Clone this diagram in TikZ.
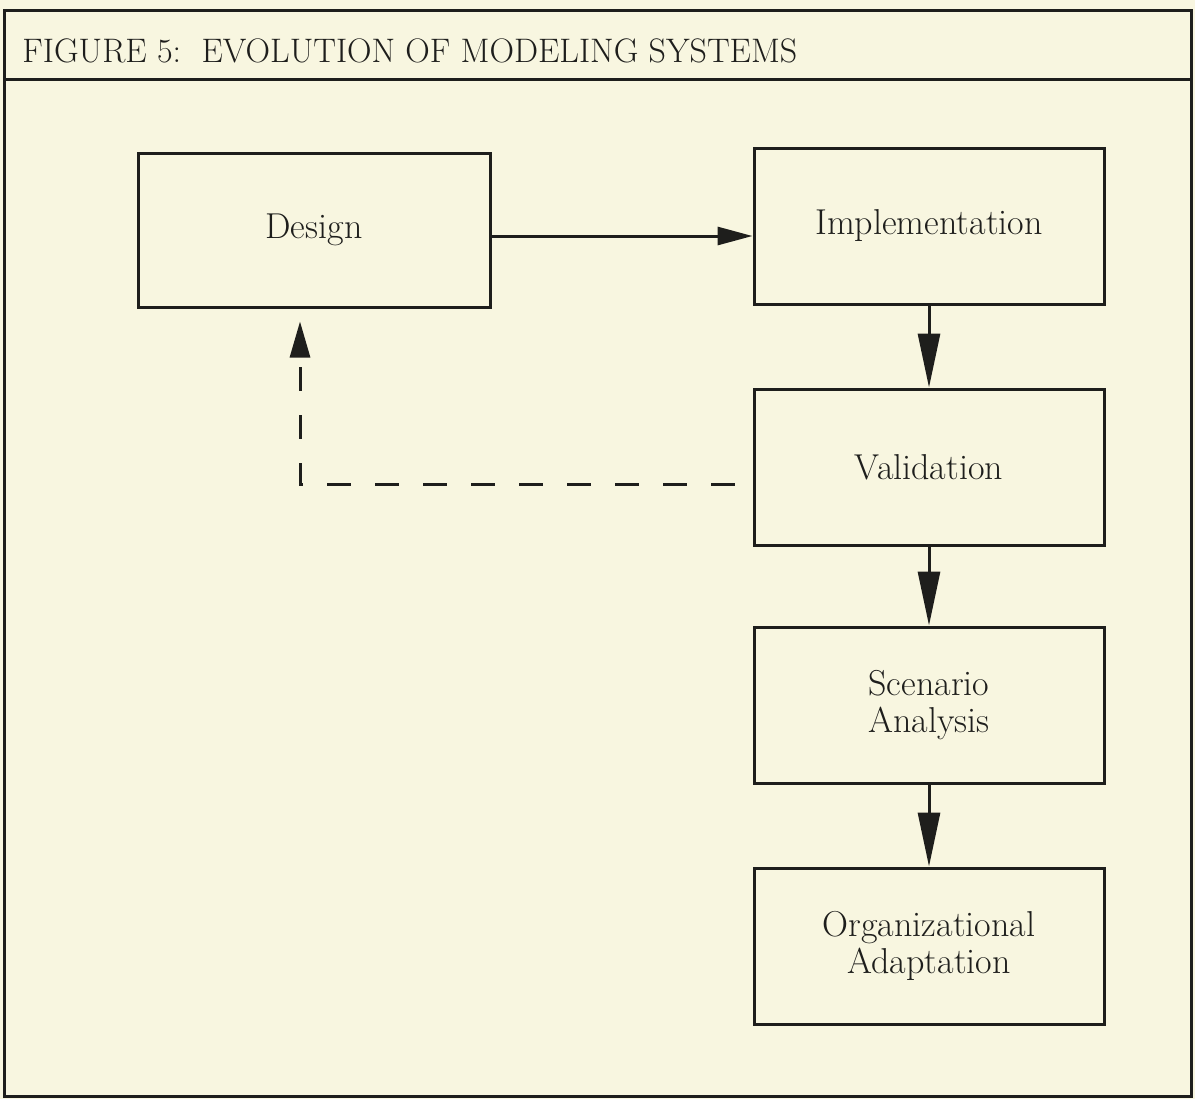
\documentclass[tikz,border=0pt]{standalone}
\usetikzlibrary{arrows.meta}
\definecolor{paper}{RGB}{248,246,224}
\definecolor{ink}{RGB}{30,30,28}
\begin{document}
\begin{tikzpicture}[x=0.5pt,y=-0.5pt,
  stagebox/.style={draw=ink,line width=1.5pt,minimum width=175pt,minimum height=78pt,align=center,
    font=\fontsize{18}{18.5}\selectfont,text=ink,inner sep=0pt},
  flow/.style={draw=ink,line width=1.5pt,-{Triangle[length=27pt,width=11pt]}},
  hflow/.style={draw=ink,line width=1.5pt,-{Triangle[length=17.5pt,width=9pt]}},
  back/.style={draw=ink,line width=1.5pt,dash pattern=on 12pt off 12pt,-{Triangle[length=18pt,width=10pt]}}]
\fill[paper] (0,0) rectangle (1195,1099);
\useasboundingbox (0,0) rectangle (1195,1099);
\draw[ink,line width=1.5pt] (4,10) rectangle (1191,1096);
\draw[ink,line width=1.5pt] (4,79) -- (1191,79);
\node[anchor=base west,text=ink,font=\fontsize{17}{20}\selectfont,inner sep=0pt] (title) at (22,62) {FIGURE 5:\ \ EVOLUTION OF MODELING SYSTEMS};
\node[stagebox,minimum width=176pt,minimum height=77pt] (design) at (314,230) {Design};
\node[stagebox] (impl) at (929,226) {Implementation};
\node[stagebox] (val) at (929,467) {Validation};
\node[stagebox] (scen) at (929,705) {Scenario\\Analysis};
\node[stagebox] (org) at (929,946) {Organizational\\Adaptation};
\draw[hflow] ([yshift=-3pt]design.east) -- ([yshift=-3pt]design.east -| impl.west);
\draw[flow] (impl.south) -- (val.north);
\draw[flow] (val.south) -- (scen.north);
\draw[flow] (scen.south) -- (org.north);
\coordinate (turn) at (300,484);
\draw[back,shorten <=9pt,shorten >=6.5pt] (val.west |- turn) -- (turn) -- (turn |- design.south);
\end{tikzpicture}
\end{document}
